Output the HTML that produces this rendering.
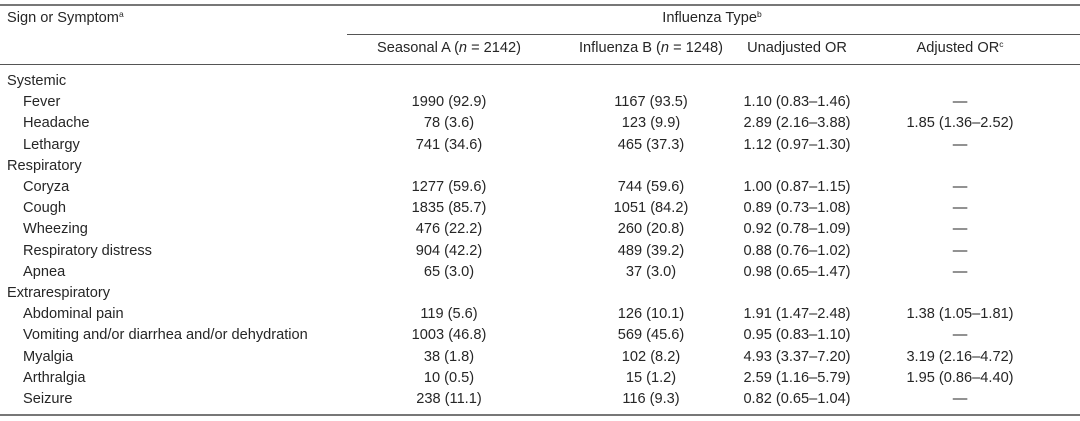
<!DOCTYPE html>
<html><head><meta charset="utf-8">
<style>
body{margin:0;width:1080px;height:421px;background:#fff;font-family:"Liberation Sans",sans-serif;color:#262626;font-size:14.6px;overflow:hidden;position:relative}
.t{position:absolute;white-space:nowrap;line-height:16px}
.c{transform:translateX(-50%)}
.ln{position:absolute;height:1px;background:#555}
sup{font-size:8.5px;vertical-align:5px;line-height:0}
</style></head><body>
<div class="ln" style="left:0;top:4px;width:1080px;height:2px;background:#777"></div>
<div class="ln" style="left:347px;top:34px;width:733px"></div>
<div class="ln" style="left:0;top:64px;width:1080px"></div>
<div class="ln" style="left:0;top:414px;width:1080px;height:2px;background:#777"></div>
<div class="t" style="left:7px;top:10px">Sign or Symptom<sup>a</sup></div>
<div class="t c" style="left:712px;top:10px">Influenza Type<sup>b</sup></div>
<div class="t c" style="left:449px;top:40px">Seasonal A (<i>n</i> = 2142)</div>
<div class="t c" style="left:651px;top:40px">Influenza B (<i>n</i> = 1248)</div>
<div class="t c" style="left:797px;top:40px">Unadjusted OR</div>
<div class="t c" style="left:960px;top:40px">Adjusted OR<sup>c</sup></div>
<script>
const labels=["Systemic","Fever","Headache","Lethargy","Respiratory","Coryza","Cough","Wheezing","Respiratory distress","Apnea","Extrarespiratory","Abdominal pain","Vomiting and/or diarrhea and/or dehydration","Myalgia","Arthralgia","Seizure"];
const isGroup=[1,0,0,0,1,0,0,0,0,0,1,0,0,0,0,0];
const seasonalA=["","1990 (92.9)","78 (3.6)","741 (34.6)","","1277 (59.6)","1835 (85.7)","476 (22.2)","904 (42.2)","65 (3.0)","","119 (5.6)","1003 (46.8)","38 (1.8)","10 (0.5)","238 (11.1)"];
const influenzaB=["","1167 (93.5)","123 (9.9)","465 (37.3)","","744 (59.6)","1051 (84.2)","260 (20.8)","489 (39.2)","37 (3.0)","","126 (10.1)","569 (45.6)","102 (8.2)","15 (1.2)","116 (9.3)"];
const unadj=["","1.10 (0.83–1.46)","2.89 (2.16–3.88)","1.12 (0.97–1.30)","","1.00 (0.87–1.15)","0.89 (0.73–1.08)","0.92 (0.78–1.09)","0.88 (0.76–1.02)","0.98 (0.65–1.47)","","1.91 (1.47–2.48)","0.95 (0.83–1.10)","4.93 (3.37–7.20)","2.59 (1.16–5.79)","0.82 (0.65–1.04)"];
const adj=["","—","1.85 (1.36–2.52)","—","","—","—","—","—","—","","1.38 (1.05–1.81)","—","3.19 (2.16–4.72)","1.95 (0.86–4.40)","—"];
const cols=[[seasonalA,449,'seasonal-a'],[influenzaB,651,'influenza-b'],[unadj,797,'unadjusted-or'],[adj,960,'adjusted-or']];
labels.forEach((l,i)=>{
 const y=73+i*21.2;
 const d=document.createElement('div');d.className='t';d.textContent=l;
 d.style.left=(isGroup[i]?7:23)+'px';d.style.top=y+'px';
 
 
 document.body.appendChild(d);
 cols.forEach(([arr,x,n])=>{
  if(!arr[i])return;
  const e=document.createElement('div');e.className='t c';e.textContent=arr[i];
  e.style.left=x+'px';e.style.top=y+'px';
  
  
  document.body.appendChild(e);
 });
});
</script>
</body></html>
